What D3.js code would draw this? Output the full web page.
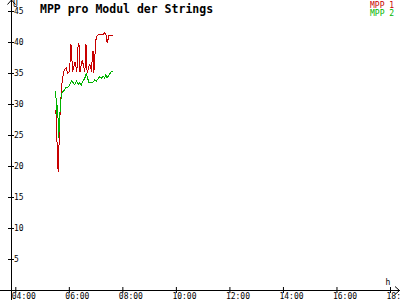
<!DOCTYPE html>
<html><head><meta charset="utf-8">
<script src="https://cdn.jsdelivr.net/npm/d3@7"></script>
<style>body{margin:0;background:#fff}svg{display:block}</style>
</head><body>
<svg id="c" width="400" height="300"></svg>
<script>
const title = "MPP pro Modul der Strings";
const seriesNames = ["MPP 1", "MPP 2"];
const seriesColors = ["#c80000", "#00b400"];
const xTickLabels = ["04:00","06:00","08:00","10:00","12:00","14:00","16:00","18:00"];
const yTickValues = [5,10,15,20,25,30,35,40,45];
const xUnit = "h";
const yUnit = "U";

const mpp1Times = ["05:31","05:32","05:36","05:40","05:41","05:43","05:45","05:49","05:51","05:54","05:57","06:02","06:04","06:06","06:08","06:14","06:18","06:21","06:23","06:25","06:30","06:36","06:38","06:39","06:41","06:47","06:51","06:53","06:55","06:56","06:58","07:00","07:04","07:10","07:17","07:20","07:24","07:26","07:30","07:38"];
const mpp1Values = [29.0,26.9,19.0,27.7,30.0,31.5,33.7,35.3,35.6,35.8,35.0,35.2,39.7,39.4,35.2,36.8,35.2,39.8,39.5,35.2,37.1,35.2,39.5,39.4,35.0,36.5,35.2,38.5,38.4,35.0,36.8,40.2,41.1,41.3,41.2,41.5,41.1,39.8,41.1,41.1];

const mpp2Times = ["05:31","05:32","05:35","05:37","05:39","05:41","05:43","05:45","05:51","05:54","05:57","06:02","06:06","06:09","06:13","06:17","06:21","06:24","06:28","06:32","06:36","06:39","06:41","06:45","06:50","06:54","06:58","07:02","07:05","07:09","07:13","07:17","07:20","07:23","07:26","07:30","07:35","07:38"];
const mpp2Values = [32.1,28.2,29.8,24.5,26.6,30.0,31.1,31.9,32.3,32.7,32.6,33.1,33.7,33.5,33.1,33.7,33.1,33.4,33.1,33.7,34.2,35.0,34.4,33.5,33.4,33.5,33.9,33.7,34.0,34.4,34.2,34.5,34.2,34.7,34.2,34.7,35.2,35.3];

const parse = d3.timeParse("%H:%M");
const FONT = "DejaVu Sans Mono";
const svg = d3.select("#c");
const W = 400, H = 300;

const x = d3.scaleTime().domain([parse("04:00"), parse("18:00")]).range([15.3, 390]);
const y = d3.scaleLinear().domain([0, 45]).range([290, 11]);

const axX = 11, axY = 290;

// axis lines
svg.append("line").attr("x1", 0).attr("x2", W).attr("y1", axY + 0.5).attr("y2", axY + 0.5)
  .attr("stroke", "#000").attr("shape-rendering", "crispEdges");
svg.append("line").attr("x1", axX + 0.5).attr("x2", axX + 0.5).attr("y1", 0).attr("y2", H)
  .attr("stroke", "#000").attr("shape-rendering", "crispEdges");
// arrows
svg.append("path").attr("d", `M${W-5},${axY-3.5} L${W-0.5},${axY+0.5} L${W-5},${axY+4.5}`)
  .attr("fill", "none").attr("stroke", "#000");
svg.append("path").attr("d", `M${axX-3.5},4.5 L${axX+0.5},0 L${axX+4.5},4.5`)
  .attr("fill", "none").attr("stroke", "#000");

// x axis
const gx = svg.append("g").attr("transform", `translate(0,${axY})`)
  .call(d3.axisBottom(x).tickValues(xTickLabels.map(parse)).tickFormat(d3.timeFormat("%H:%M")).tickSize(3));
gx.select(".domain").remove();
gx.selectAll(".tick line").attr("y1", -3).attr("y2", 3);
gx.selectAll(".tick text").attr("text-anchor", "start").attr("x", -4).attr("y", 8.5).attr("dy", 0)
  .attr("font-family", FONT).attr("font-size", 8).attr("fill", "#000");

// y axis
const gy = svg.append("g").attr("transform", `translate(${axX},0)`)
  .call(d3.axisLeft(y).tickValues(yTickValues).tickSize(3));
gy.select(".domain").remove();
gy.selectAll(".tick line").attr("x1", -3).attr("x2", 3);
gy.selectAll(".tick text").attr("text-anchor", "start").attr("x", 3).attr("dy", "0.35em")
  .attr("font-family", FONT).attr("font-size", 8).attr("fill", "#000");

// unit labels
svg.append("text").attr("x", 13).attr("y", 6.5).text(yUnit)
  .attr("font-family", FONT).attr("font-size", 8);
svg.append("text").attr("x", 385.5).attr("y", 284.5).text(xUnit)
  .attr("font-family", FONT).attr("font-size", 8);

// title
svg.append("text").attr("x", 40).attr("y", 12.5).text(title)
  .attr("font-family", FONT).attr("font-size", 11.5).attr("font-weight", "bold");

// series
const series = [
  { times: mpp1Times, values: mpp1Values },
  { times: mpp2Times, values: mpp2Values }
];
const line = d3.line().x(d => x(d.t)).y(d => y(d.v));
series.forEach((s, i) => {
  const data = s.times.map((t, j) => ({ t: parse(t), v: s.values[j] }));
  svg.append("path").datum(data).attr("d", line)
    .attr("fill", "none").attr("stroke", seriesColors[i]).attr("stroke-width", 1)
    .attr("shape-rendering", "crispEdges");
});

// legend
seriesNames.forEach((n, i) => {
  svg.append("text").attr("x", 370).attr("y", 7.5 + i * 8.5).text(n)
    .attr("font-family", FONT).attr("font-size", 8)
    .attr("fill", seriesColors[i]);
});
</script>
</body></html>
